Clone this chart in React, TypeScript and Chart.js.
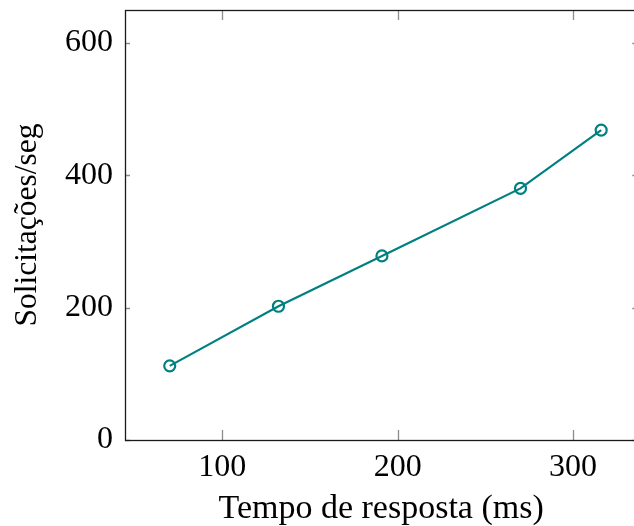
import React, { useEffect, useRef } from "react";
import { Chart, registerables } from "chart.js";

Chart.register(...registerables);

const responseTimeMs = [70, 132, 191, 270, 316];
const requestsPerSec = [112, 202, 278, 380, 468];
const xTickValues = [100, 200, 300];
const yTickValues = [0, 200, 400, 600];
const xTitle = "Tempo de resposta (ms)";
const yTitle = "Solicitações/seg";

const TEAL = "#008080";
const FONT = "'Liberation Serif', 'DejaVu Serif', serif";

const framePlugin = {
  id: "pgfFrame",
  afterDraw(chart: any) {
    const { ctx, chartArea, scales } = chart;
    const { left, right, top, bottom } = chartArea;
    ctx.save();
    ctx.strokeStyle = "rgba(0,0,0,0.45)";
    ctx.lineWidth = 1.3;
    ctx.beginPath();
    for (const v of xTickValues) {
      const px = Math.round(scales.x.getPixelForValue(v)) + 0.5;
      ctx.moveTo(px, bottom);
      ctx.lineTo(px, bottom - 10);
      ctx.moveTo(px, top);
      ctx.lineTo(px, top + 10);
    }
    for (const v of yTickValues) {
      const py = Math.round(scales.y.getPixelForValue(v)) + 0.5;
      ctx.moveTo(left, py);
      ctx.lineTo(left + 5, py);
      ctx.moveTo(right, py);
      ctx.lineTo(right - 5, py);
    }
    ctx.stroke();
    ctx.strokeStyle = "#1a1a1a";
    ctx.lineWidth = 1.3;
    ctx.strokeRect(Math.round(left) + 0.5, Math.round(top) + 0.5, Math.round(right - left), Math.round(bottom - top));
    ctx.restore();
  },
};

const zeroPadding = (scale: any) => {
  scale.paddingTop = 0;
  scale.paddingBottom = 0;
  scale.paddingLeft = 0;
  scale.paddingRight = 0;
};

export default function App() {
  const canvasRef = useRef<HTMLCanvasElement | null>(null);

  useEffect(() => {
    if (!canvasRef.current) return;
    const chart = new Chart(canvasRef.current, {
      type: "line",
      data: {
        datasets: [
          {
            data: responseTimeMs.map((x, i) => ({ x, y: requestsPerSec[i] })),
            borderColor: TEAL,
            borderWidth: 2.2,
            pointRadius: 5.5,
            pointBorderWidth: 2.2,
            pointBorderColor: TEAL,
            pointBackgroundColor: "rgba(0,0,0,0)",
            pointStyle: "circle",
            tension: 0,
            fill: false,
          },
        ],
      },
      options: {
        animation: false,
        responsive: false,
        devicePixelRatio: 1,
        layout: { padding: { top: 10, right: 3, left: 0, bottom: 0 } },
        plugins: {
          legend: { display: false },
          tooltip: { enabled: false },
        },
        scales: {
          x: {
            type: "linear",
            min: 44.5,
            max: 336.6,
            grid: { display: false, drawTicks: false },
            border: { display: false },
            afterBuildTicks: (scale: any) => {
              scale.ticks = xTickValues.map((value) => ({ value }));
            },
            afterFit: (scale: any) => {
              scale.height = 86;
              zeroPadding(scale);
            },
            ticks: {
              color: "#000",
              padding: 8,
              maxRotation: 0,
              font: { family: FONT, size: 32 },
            },
            title: {
              display: true,
              text: xTitle,
              color: "#000",
              font: { family: FONT, size: 34 },
              padding: { top: 0, bottom: -3 },
            },
          },
          y: {
            type: "linear",
            min: 0,
            max: 649.5,
            grid: { display: false, drawTicks: false },
            border: { display: false },
            afterBuildTicks: (scale: any) => {
              scale.ticks = yTickValues.map((value) => ({ value }));
            },
            afterFit: (scale: any) => {
              scale.width = 125;
              zeroPadding(scale);
            },
            ticks: {
              color: "#000",
              padding: 12,
              font: { family: FONT, size: 32 },
            },
            title: {
              display: true,
              text: yTitle,
              color: "#000",
              font: { family: FONT, size: 31.5 },
              padding: { top: 9, bottom: 0 },
            },
          },
        },
      },
      plugins: [framePlugin],
    } as any);
    return () => chart.destroy();
  }, []);

  return (
    <div
      style={{
        position: "fixed",
        left: 0,
        top: 0,
        width: 634,
        height: 526,
        overflow: "hidden",
        background: "#fff",
      }}
    >
      <canvas ref={canvasRef} width={645} height={526} style={{ display: "block" }} />
    </div>
  );
}
